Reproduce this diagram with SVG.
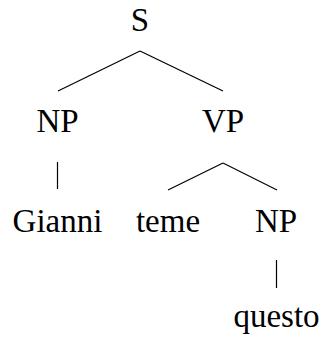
<svg xmlns="http://www.w3.org/2000/svg" width="325" height="342" viewBox="0 0 325 342">
<style>
text{font-family:'Liberation Serif','Times New Roman',serif;font-size:33px;fill:#000;text-anchor:middle}
line{stroke:#000;stroke-width:1.2}
</style>
<rect width="325" height="342" fill="#fff"/>
<g id="connectors">
<line x1="140" y1="51" x2="58" y2="91"/>
<line x1="140" y1="51" x2="223" y2="91"/>
<line x1="57.5" y1="162" x2="57.5" y2="189"/>
<line x1="223" y1="163" x2="168" y2="190"/>
<line x1="223" y1="163" x2="277" y2="190"/>
<line x1="276.5" y1="260" x2="276.5" y2="288"/>
</g>
<g id="S"><text x="140" y="31">S</text></g>
<g id="NP1"><text x="57.5" y="132">NP</text></g>
<g id="VP"><text x="223" y="132">VP</text></g>
<g id="Gianni"><text x="57.5" y="231.5">Gianni</text></g>
<g id="teme"><text x="168" y="231.5">teme</text></g>
<g id="NP2"><text x="276" y="231.5">NP</text></g>
<g id="questo"><text x="276.5" y="327">questo</text></g>
</svg>
